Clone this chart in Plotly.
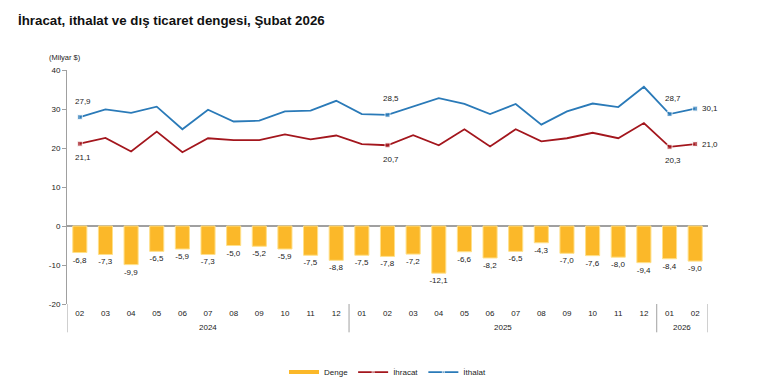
import plotly.graph_objects as go

years = ["2024"] * 11 + ["2025"] * 12 + ["2026"] * 2
months = ["02", "03", "04", "05", "06", "07", "08", "09", "10", "11", "12",
          "01", "02", "03", "04", "05", "06", "07", "08", "09", "10", "11", "12",
          "01", "02"]
denge = [-6.8, -7.3, -9.9, -6.5, -5.9, -7.3, -5.0, -5.2, -5.9, -7.5, -8.8,
         -7.5, -7.8, -7.2, -12.1, -6.6, -8.2, -6.5, -4.3, -7.0, -7.6, -8.0, -9.4,
         -8.4, -9.0]
ihracat = [21.1, 22.6, 19.1, 24.2, 18.9, 22.5, 22.0, 22.0, 23.5, 22.2, 23.2,
           21.0, 20.7, 23.3, 20.7, 24.8, 20.4, 24.8, 21.7, 22.5, 23.9, 22.5, 26.4,
           20.3, 21.0]
ithalat = [27.9, 29.9, 29.0, 30.6, 24.8, 29.8, 26.8, 27.0, 29.4, 29.6, 32.1,
           28.7, 28.5, 30.6, 32.8, 31.3, 28.7, 31.3, 26.0, 29.4, 31.4, 30.5, 35.7,
           28.7, 30.1]
labeled_idx = [0, 12, 23, 24]
yticks = [-20, -10, 0, 10, 20, 30, 40]

def fmt(v):
    return f"{v:.1f}".replace(".", ",")

FONT = "Liberation Sans, Arial, sans-serif"
TXT = "#222222"
GRAY = "#A0A0A0"
YELLOW = "#FBB829"
RED = "#A3161D"
BLUE = "#2A7AB8"

xs = list(range(len(months)))
n = len(xs)

fig = go.Figure()
fig.add_trace(go.Bar(
    x=xs, y=denge, name="Denge", showlegend=False,
    marker=dict(color=YELLOW, line=dict(color="#FFE08A", width=1)),
    width=0.55,
    text=[fmt(v) for v in denge], textposition="outside", constraintext="none",
    textfont=dict(size=8, color=TXT, family=FONT), cliponaxis=False,
))
# legend entry for balance drawn as a thick line, as in the original
fig.add_trace(go.Scatter(x=[None], y=[None], mode="lines", name="Denge",
                         line=dict(color=YELLOW, width=4)))

def line_trace(vals, name, color):
    sizes = [5 if i in labeled_idx else 0 for i in range(n)]
    return go.Scatter(
        x=xs, y=vals, name=name, mode="lines+markers",
        line=dict(color=color, width=1.8),
        marker=dict(symbol="square", size=sizes, color=color),
        cliponaxis=False,
    )

fig.add_trace(line_trace(ihracat, "İhracat", RED))
fig.add_trace(line_trace(ithalat, "İthalat", BLUE))

annotations = []
for i in labeled_idx:
    last = i == n - 1
    for vals, above in ((ithalat, True), (ihracat, False)):
        if last:
            annotations.append(dict(x=i, y=vals[i], xref="x", yref="y", text=fmt(vals[i]),
                                    showarrow=False, xanchor="left", yanchor="middle",
                                    xshift=5, font=dict(size=8, color=TXT)))
        else:
            annotations.append(dict(x=i, y=vals[i], xref="x", yref="y", text=fmt(vals[i]),
                                    showarrow=False, xanchor="center", yanchor="middle",
                                    xshift=3, yshift=16 if above else -14,
                                    font=dict(size=8, color=TXT)))

# year labels under the month labels
for yr in ["2024", "2025", "2026"]:
    idx = [i for i, y in enumerate(years) if y == yr]
    annotations.append(dict(x=sum(idx) / len(idx), y=-0.102, xref="x", yref="paper",
                            text=yr, showarrow=False, xanchor="center", yanchor="middle",
                            font=dict(size=8, color=TXT)))

annotations.append(dict(text="(Milyar $)", xref="paper", yref="paper", x=-0.003, y=1.053,
                        xanchor="center", yanchor="middle", showarrow=False,
                        font=dict(size=7.5, color=TXT)))

# year dividers and axis extension
shapes = []
bounds = [-0.5] + [i + 0.5 for i in range(n - 1) if years[i] != years[i + 1]] + [n - 0.5]
for b in bounds:
    shapes.append(dict(type="line", xref="x", yref="paper", x0=b, x1=b, y0=0, y1=-0.121,
                       line=dict(color=GRAY, width=1)))

fig.update_layout(
    width=770, height=385,
    margin=dict(l=59, r=70, t=61.5, b=88.5, autoexpand=False),
    plot_bgcolor="white", paper_bgcolor="white",
    font=dict(family=FONT, size=8, color=TXT),
    title=dict(text="<b>İhracat, ithalat ve dış ticaret dengesi, Şubat 2026</b>",
               xref="container", x=0.013, xanchor="left", y=0.969, yanchor="middle",
               font=dict(size=13.3, color="#111111", family=FONT)),
    showlegend=True,
    legend=dict(orientation="h", x=0.5, xanchor="center", y=-0.291, yanchor="middle",
                font=dict(size=8, color=TXT), itemwidth=30, traceorder="normal"),
    annotations=annotations,
    shapes=shapes,
)
fig.update_xaxes(
    range=[-0.5, n - 0.5], tickvals=xs, ticktext=months, showgrid=False,
    showline=False, zeroline=False, ticks="", tickfont=dict(size=8, color=TXT),
    ticklabelstandoff=3, automargin=False,
)
fig.update_yaxes(
    range=[-20, 40], tickvals=yticks, ticktext=[str(v) for v in yticks],
    showgrid=False, showline=True, linecolor=GRAY, linewidth=1,
    ticks="outside", ticklen=4, tickcolor=GRAY,
    zeroline=True, zerolinecolor=GRAY, zerolinewidth=1.5,
    tickfont=dict(size=8, color=TXT), automargin=False,
)
fig.write_html("out.html")
